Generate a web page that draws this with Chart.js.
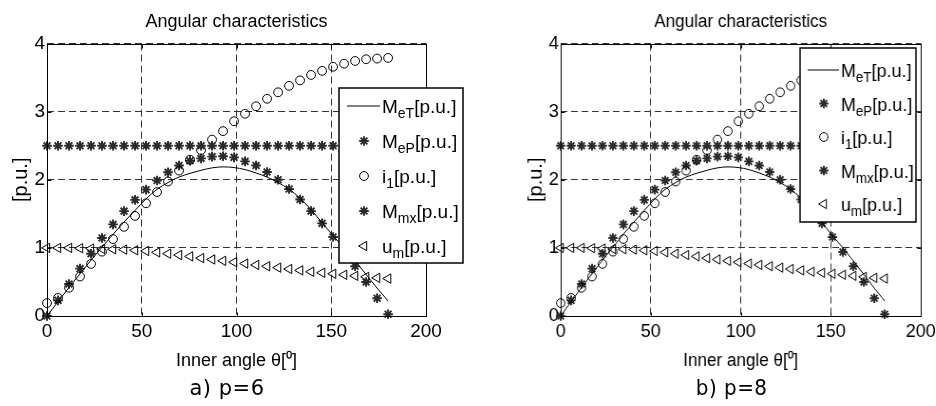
<!DOCTYPE html>
<html>
<head>
<meta charset="utf-8">
<script src="https://cdn.jsdelivr.net/npm/chart.js"></script>
<style>
    body { margin: 0; width: 936px; height: 406px; overflow: hidden; background: #fff; position: relative; }
    .panel { position: absolute; top: 0; width: 468px; height: 406px; }
    .cap { position: absolute; left: 0; top: 376px; width: 454px; text-align: center;
           font: 21px "DejaVu Sans", sans-serif; line-height: 24px; letter-spacing: 0.5px; color: #000; }
</style>
</head>
<body>
<div class="panel" style="left:0">
    <canvas id="chartA" width="468" height="406"></canvas>
    <div class="cap">a) p=6</div>
</div>
<div class="panel" style="left:516px; transform:scaleX(0.95); transform-origin:0 0">
    <canvas id="chartB" width="468" height="406"></canvas>
    <div class="cap">b) p=8</div>
</div>
<script>
// values (both panels show the same curves)
const theta = [0, 5.81, 11.61, 17.42, 23.23, 29.03, 34.84, 40.65, 46.45, 52.26, 58.06, 63.87, 69.68, 75.48, 81.29, 87.10,
               92.90, 98.71, 104.52, 110.32, 116.13, 121.94, 127.74, 133.55, 139.35, 145.16, 150.97, 156.77, 162.58, 168.39, 174.19, 180];
const meT = [0, 0.21, 0.42, 0.62, 0.82, 1.01, 1.2, 1.38, 1.55, 1.72, 1.86, 1.96, 2.04, 2.095, 2.14, 2.175,
             2.19, 2.18, 2.15, 2.1, 2.04, 1.96, 1.86, 1.73, 1.56, 1.37, 1.18, 1.0, 0.81, 0.61, 0.41, 0.22];
const meP = [2.5, 2.5, 2.5, 2.5, 2.5, 2.5, 2.5, 2.5, 2.5, 2.5, 2.5, 2.5, 2.5, 2.5, 2.5, 2.5,
             2.5, 2.5, 2.5, 2.5, 2.5, 2.5, 2.5, 2.5, 2.5, 2.5, 2.5, 2.5, 2.5, 2.5, 2.5, 2.5];
const i1 = [0.19, 0.265, 0.415, 0.58, 0.765, 0.945, 1.13, 1.31, 1.47, 1.655, 1.82, 1.975, 2.135, 2.295, 2.435, 2.59,
            2.715, 2.86, 2.97, 3.08, 3.19, 3.285, 3.38, 3.46, 3.54, 3.6, 3.66, 3.705, 3.745, 3.77, 3.78, 3.79];
const mmx = [0, 0.23, 0.47, 0.695, 0.915, 1.145, 1.345, 1.54, 1.705, 1.855, 1.99, 2.11, 2.21, 2.28, 2.315, 2.34,
             2.345, 2.33, 2.27, 2.21, 2.115, 2.0, 1.865, 1.71, 1.54, 1.36, 1.16, 0.94, 0.73, 0.5, 0.26, 0.025];
const um = [1.0, 1.0, 1.0, 0.995, 0.99, 0.985, 0.98, 0.975, 0.965, 0.955, 0.935, 0.915, 0.895, 0.875, 0.85, 0.83,
            0.81, 0.79, 0.77, 0.75, 0.73, 0.71, 0.69, 0.67, 0.65, 0.635, 0.62, 0.605, 0.59, 0.575, 0.56, 0.55];
const xTicks = [0, 50, 100, 150, 200];
const yTicks = [0, 1, 2, 3, 4];
const legendMain = ['M', 'M', 'i', 'M', 'u'];
const legendSub = ['eT', 'eP', '1', 'mx', 'm'];

const FONT = '"Liberation Sans", Arial, sans-serif';
Chart.defaults.font.family = FONT;
Chart.defaults.color = '#000';

function pts(arr) {
    return theta.map((t, i) => ({ x: t, y: arr[i] }));
}

function buildDatasets() {
    const star = { pointStyle: 'star', pointRadius: 4.8, pointBorderColor: '#2a2a2a', pointBorderWidth: 1.9 };
    return [
        { label: 'MeT', data: pts(meT), showLine: true, borderColor: '#000', borderWidth: 1,
          pointRadius: 0, cubicInterpolationMode: 'monotone' },
        Object.assign({ label: 'MeP', data: pts(meP) }, star),
        { label: 'i1', data: pts(i1), pointStyle: 'circle', pointRadius: 4.4, pointBorderColor: '#000',
          pointBackgroundColor: 'rgba(0,0,0,0)', pointBorderWidth: 1 },
        Object.assign({ label: 'Mmx', data: pts(mmx) }, star),
        { label: 'um', data: pts(um), pointStyle: 'triangle', pointRotation: 270, pointRadius: 5.4,
          pointBorderColor: '#000', pointBackgroundColor: 'rgba(0,0,0,0)', pointBorderWidth: 1 }
    ];
}

// axes box + inward ticks
const framePlugin = {
    id: 'frame',
    afterDatasetsDraw(chart) {
        const { ctx, chartArea: a, scales: { x, y } } = chart;
        const l = Math.round(a.left) + 0.5, r = Math.round(a.right) + 0.5;
        const t = Math.round(a.top) + 0.5, b = Math.round(a.bottom) + 0.5;
        ctx.save();
        ctx.strokeStyle = '#000';
        ctx.lineWidth = 1;
        ctx.setLineDash([]);
        ctx.strokeRect(l, t, r - l, b - t);
        ctx.beginPath();
        xTicks.forEach(v => {
            const px = Math.round(x.getPixelForValue(v)) + 0.5;
            ctx.moveTo(px, b); ctx.lineTo(px, b - 4);
            ctx.moveTo(px, t); ctx.lineTo(px, t + 4);
        });
        yTicks.forEach(v => {
            const py = Math.round(y.getPixelForValue(v)) + 0.5;
            ctx.moveTo(l, py); ctx.lineTo(l + 4, py);
            ctx.moveTo(r, py); ctx.lineTo(r - 4, py);
        });
        ctx.stroke();
        ctx.restore();
    }
};

// boxed legend with subscripts
const boxLegend = {
    id: 'boxLegend',
    afterDraw(chart, args, o) {
        const ctx = chart.ctx;
        ctx.save();
        ctx.fillStyle = '#fff';
        ctx.fillRect(o.x, o.y, o.w, o.h);
        ctx.strokeStyle = '#000';
        ctx.lineWidth = 1.5;
        ctx.strokeRect(o.x, o.y, o.w, o.h);
        chart.data.datasets.forEach((ds, i) => {
            const cy = o.y + o.first + i * o.step;
            ctx.strokeStyle = ds.showLine ? ds.borderColor : ds.pointBorderColor;
            if (ds.showLine) {
                ctx.lineWidth = ds.borderWidth;
                ctx.beginPath();
                ctx.moveTo(o.x + 8, cy);
                ctx.lineTo(o.x + 41, cy);
                ctx.stroke();
            } else {
                ctx.lineWidth = ds.pointBorderWidth;
                ctx.fillStyle = ds.pointBackgroundColor || 'rgba(0,0,0,0)';
                Chart.helpers.drawPoint(ctx, {
                    pointStyle: ds.pointStyle, radius: ds.pointRadius,
                    rotation: ds.pointRotation || 0, borderWidth: ds.pointBorderWidth
                }, o.x + 25, cy);
            }
            ctx.fillStyle = '#000';
            ctx.textBaseline = 'alphabetic';
            let tx = o.x + 43;
            const base = cy + 7;
            ctx.font = '19px ' + FONT;
            ctx.fillText(legendMain[i], tx, base);
            tx += ctx.measureText(legendMain[i]).width;
            ctx.font = '14px ' + FONT;
            ctx.fillText(legendSub[i], tx, base + 5);
            tx += ctx.measureText(legendSub[i]).width;
            ctx.font = '19px ' + FONT;
            ctx.fillText('[p.u.]', tx, base);
        });
        ctx.restore();
    }
};

function makeChart(id, legendBox) {
    return new Chart(id, {
        type: 'scatter',
        data: { datasets: buildDatasets() },
        options: {
            responsive: false,
            animation: false,
            events: [],
            clip: false,
            layout: { padding: { left: 0, right: 42, top: 0, bottom: 0 } },
            datasets: { scatter: { clip: false } },
            scales: {
                x: {
                    type: 'linear', min: 0, max: 200,
                    afterBuildTicks: s => { s.ticks = xTicks.map(v => ({ value: v })); },
                    afterFit: s => { s.height = 90; s.paddingLeft = 0; s.paddingRight = 0; },
                    ticks: { font: { size: 19 }, padding: 4, color: '#000', maxRotation: 0 },
                    grid: { color: '#333', lineWidth: 1, drawTicks: false },
                    border: { display: false, dash: [7, 4] },
                    title: { display: true, text: 'Inner angle θ[⁰]', font: { size: 18 }, padding: { top: 0, bottom: 34 } }
                },
                y: {
                    type: 'linear', min: 0, max: 4,
                    afterBuildTicks: s => { s.ticks = yTicks.map(v => ({ value: v })); },
                    afterFit: s => { s.width = 47; s.paddingTop = 0; s.paddingBottom = 0; },
                    ticks: { font: { size: 19 }, padding: 2, color: '#000' },
                    grid: { color: '#333', lineWidth: 1, drawTicks: false },
                    border: { display: false, dash: [7, 4] },
                    title: { display: true, text: '[p.u.]', font: { size: 20 }, padding: { top: 9, bottom: 0 } }
                }
            },
            plugins: {
                legend: { display: false },
                tooltip: { enabled: false },
                title: {
                    display: true, text: 'Angular characteristics', fullSize: false,
                    font: { size: 18, weight: 'normal' }, color: '#000', padding: { top: 11, bottom: 11 }
                },
                boxLegend: legendBox
            }
        },
        plugins: [framePlugin, boxLegend]
    });
}

makeChart('chartA', { x: 339, y: 88, w: 124, h: 175, first: 18, step: 35 });
makeChart('chartB', { x: 299, y: 48, w: 122, h: 174, first: 22, step: 33.5 });
</script>
</body>
</html>
